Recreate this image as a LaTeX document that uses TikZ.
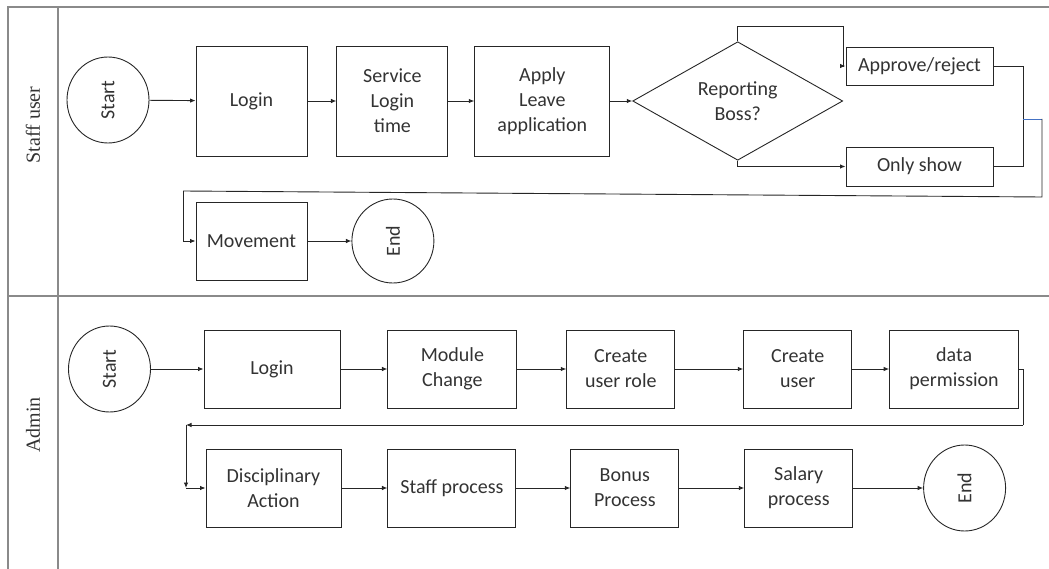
\documentclass[tikz,border=0pt]{standalone}
\usepackage{fontspec}
\setmainfont{Carlito}
\newfontfamily\lanefont{Liberation Serif}
\usepackage{tikz}
\usetikzlibrary{positioning,shapes.geometric,arrows.meta}

\definecolor{framegray}{HTML}{8A8A8A}
\definecolor{inkgray}{HTML}{262626}
\definecolor{textgray}{HTML}{333333}
\definecolor{joinblue}{HTML}{4472C4}

\tikzset{
  box/.style={draw=inkgray, line width=0.9pt, rectangle, align=center, inner sep=2pt,
    text=textgray, font=\fontsize{20}{25}\selectfont},
  terminal/.style={draw=inkgray, line width=0.9pt, ellipse, minimum width=82pt,
    minimum height=86pt, inner sep=0pt, text=textgray, font=\fontsize{20}{25}\selectfont},
  decision/.style={draw=inkgray, line width=0.9pt, diamond, minimum width=210pt,
    minimum height=108pt, inner sep=0pt, align=center, text=textgray,
    font=\fontsize{20}{25}\selectfont},
  lane/.style={draw=framegray, line width=1.5pt},
  lanename/.style={rotate=90, text=textgray, font=\lanefont\fontsize{20}{24}\selectfont},
  arrow/.style={draw=inkgray, line width=0.9pt, -{Latex[length=5.5pt,width=4.5pt]}},
  line/.style={draw=inkgray, line width=0.9pt}
}

\begin{document}
\begin{tikzpicture}[x=1pt, y=-1pt]
            \useasboundingbox (0,0) rectangle (1049,569);

            % Lanes

            \draw[lane] (1049,7) -- (8,7) -- (8,569);
            \draw[lane] (58,7) -- (58,569);
            \draw[lane] (8,296) -- (1049,296);
            \node[lanename] (staffname) at (33,125) {Staff user};
            \node[lanename] (adminname) at (33,425) {Admin};

            % Staff user nodes

            \node[terminal] (sstart) at (108,100) {\rotatebox{90}{Start}};
            \node[box, minimum width=111pt, minimum height=110pt] (slogin) at (251.5,101) {Login};
            \node[box, minimum width=111pt, minimum height=110pt, right=29pt of slogin] (sservice) {Service\\Login\\time};
            \node[box, minimum width=135pt, minimum height=110pt, right=26pt of sservice] (sapply) {Apply\\Leave\\application};
            \node[decision, right=22pt of sapply] (boss) {Reporting\\Boss?};
            \node[box, minimum width=147pt, minimum height=38pt] (approve) at (919.5,66) {Approve/reject};
            \node[box, minimum width=147pt, minimum height=39pt] (onlyshow) at (919.5,166.5) {Only show};
            \node[box, minimum width=111pt, minimum height=78pt] (movement) at (251.5,241) {Movement};
            \node[terminal, minimum height=84pt, right=44pt of movement] (send) {\rotatebox{90}{End}};

            \coordinate (bosstop) at (843,26);
            \coordinate (sjoin) at (1023,119);
            \coordinate (sright) at (1042,197);
            \coordinate (sleft) at (183,191);

            % Admin nodes

            \node[terminal] (astart) at (109.5,369) {\rotatebox{90}{Start}};
            \node[box, minimum width=136pt, minimum height=78pt] (alogin) at (272,369) {Login};
            \node[box, minimum width=129pt, minimum height=78pt, right=47pt of alogin] (module) {Module\\Change};
            \node[box, minimum width=108pt, minimum height=78pt, right=49pt of module] (role) {Create\\user role};
            \node[box, minimum width=108pt, minimum height=78pt, right=68pt of role] (cuser) {Create\\user};
            \node[box, minimum width=129pt, minimum height=78pt, right=37pt of cuser] (dperm) {data\\permission};
            \node[box, minimum width=135pt, minimum height=78pt] (disc) at (273.5,488) {Disciplinary\\Action};
            \node[box, minimum width=128pt, minimum height=78pt, right=46pt of disc] (staffp) {Staff process};
            \node[box, minimum width=108pt, minimum height=78pt, right=54pt of staffp] (bonus) {Bonus\\Process};
            \node[box, minimum width=108pt, minimum height=78pt, right=65pt of bonus] (salary) {Salary\\process};
            \node[terminal, right=70pt of salary] (aend) {\rotatebox{90}{End}};

            \coordinate (aright) at (1023,425);
            \coordinate (aleft) at (186,425);
            \coordinate (adown) at (186,488);

            % Staff user edges

            \draw[arrow] (sstart) -- (slogin);
            \draw[arrow] (slogin) -- (sservice);
            \draw[arrow] (sservice) -- (sapply);
            \draw[arrow] (sapply) -- (boss);
            \draw[line] (boss.north) |- (bosstop);
            \draw[arrow] (bosstop) |- (approve.west);
            \draw[arrow] (boss.south) |- (onlyshow.west);
            \draw[line] (approve.east) -| (sjoin);
            \draw[line] (onlyshow.east) -| (sjoin);
            \draw[draw=joinblue, line width=0.9pt] (sjoin) -- (sjoin -| sright);
            \draw[line] (sjoin -| sright) -- (sright) -- (sleft);
            \draw[arrow] (sleft) |- (movement.west);
            \draw[arrow] (movement) -- (send);

            % Admin edges

            \draw[arrow] (astart) -- (alogin);
            \draw[arrow] (alogin) -- (module);
            \draw[arrow] (module) -- (role);
            \draw[arrow] (role) -- (cuser);
            \draw[arrow] (cuser) -- (dperm);
            \draw[line] (dperm.east) -| (aright);
            \draw[arrow] (aright) -- (aleft);
            \draw[arrow] (aleft) -- (adown);
            \draw[arrow] (adown) -- (disc.west);
            \draw[arrow] (disc) -- (staffp);
            \draw[arrow] (staffp) -- (bonus);
            \draw[arrow] (bonus) -- (salary);
            \draw[arrow] (salary) -- (aend);

\end{tikzpicture}
\end{document}
